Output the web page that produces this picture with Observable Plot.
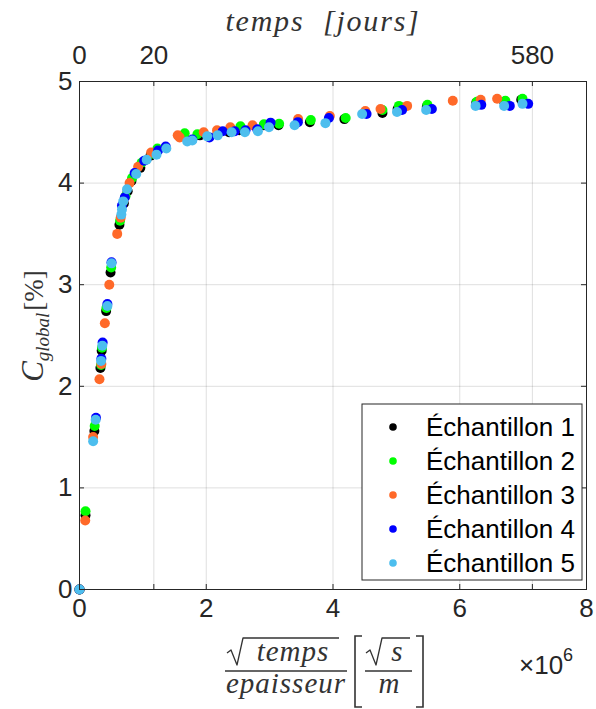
<!DOCTYPE html>
<html><head><meta charset="utf-8">
<script src="https://cdn.jsdelivr.net/npm/d3@7"></script>
<script src="https://cdn.jsdelivr.net/npm/@observablehq/plot@0.6"></script>
<style>body{margin:0;background:#fff}</style>
</head><body><div id="chart"></div>
<script>
// ---- data (x in units of 1e6 √s/m, y in %) ----
const seriesNames = ["Échantillon 1", "Échantillon 2", "Échantillon 3", "Échantillon 4", "Échantillon 5"];
const seriesColors = ["#000000", "#00ff00", "#ff6929", "#0000ff", "#4dbeee"];
const s1 = [[0,0],[0.095,0.73],[0.235,1.56],[0.33,2.18],[0.35,2.35],[0.42,2.74],[0.49,3.12],[0.63,3.59],[0.70,3.80],[0.76,3.92],[0.82,4.02],[0.96,4.15],[1.12,4.27],[1.22,4.31],[1.64,4.46],[1.90,4.47],[2.18,4.49],[2.36,4.50],[2.52,4.52],[2.91,4.57],[3.14,4.57],[3.635,4.60],[4.18,4.63],[4.78,4.69],[5.02,4.73],[5.48,4.75],[6.26,4.79],[6.70,4.80],[6.97,4.82]];
const s2 = [[0,0],[0.095,0.77],[0.24,1.61],[0.34,2.21],[0.355,2.38],[0.425,2.77],[0.50,3.17],[0.64,3.63],[0.726,3.87],[0.83,4.05],[0.98,4.20],[1.14,4.29],[1.23,4.34],[1.66,4.49],[1.86,4.48],[2.21,4.50],[2.54,4.56],[2.91,4.58],[3.15,4.585],[3.65,4.62],[4.20,4.64],[4.78,4.72],[5.04,4.76],[5.49,4.77],[6.27,4.80],[6.72,4.81],[6.99,4.83]];
const s3 = [[0,0],[0.09,0.68],[0.215,1.50],[0.315,2.07],[0.345,2.22],[0.40,2.62],[0.47,3.00],[0.595,3.50],[0.65,3.66],[0.79,4.00],[0.925,4.16],[1.13,4.30],[1.55,4.47],[1.58,4.45],[1.96,4.50],[2.17,4.52],[2.38,4.55],[2.73,4.57],[3.45,4.63],[3.95,4.66],[4.51,4.71],[4.75,4.73],[5.17,4.76],[5.89,4.81],[6.33,4.82],[6.59,4.83]];
const s4 = [[0,0],[0.26,1.69],[0.345,2.27],[0.365,2.43],[0.44,2.81],[0.505,3.22],[0.67,3.78],[0.715,3.86],[0.87,4.10],[1.02,4.22],[1.24,4.32],[1.36,4.36],[1.78,4.43],[2.05,4.45],[2.26,4.51],[2.45,4.51],[2.62,4.52],[2.805,4.53],[3.015,4.595],[3.446,4.60],[3.935,4.64],[4.53,4.68],[5.09,4.72],[5.56,4.73],[6.34,4.77],[6.79,4.76],[7.08,4.78]];
const s5 = [[0,0],[0.215,1.46],[0.255,1.67],[0.34,2.25],[0.36,2.40],[0.44,2.79],[0.505,3.21],[0.66,3.69],[0.67,3.74],[0.69,3.82],[0.75,3.94],[0.895,4.09],[1.06,4.23],[1.215,4.28],[1.37,4.34],[1.70,4.41],[1.78,4.42],[2.015,4.46],[2.18,4.47],[2.40,4.50],[2.61,4.50],[2.815,4.51],[2.99,4.55],[3.394,4.57],[3.88,4.59],[4.46,4.68],[5.01,4.70],[5.47,4.72],[6.25,4.76],[6.70,4.76],[6.99,4.78]];
const xTicks = [0, 2, 4, 6, 8];
const yTicks = [0, 1, 2, 3, 4, 5];
const topTicks = [0, 1.173, 7.146];          // positions of the day ticks on the x scale
const topTickLabels = ["0", "20", "580"];    // temps [jours]

// ---- layout ----
const W = 596, H = 709, mL = 79, mR = 10, mT = 81, mB = 120;
const pw = W - mL - mR, ph = H - mT - mB;
const axisColor = "#262626", tickLen = 5, fs = 26;
const sans = "'Liberation Sans', Arial, sans-serif";
const serif = "'Liberation Serif', 'DejaVu Serif', serif";
const mathColor = "#333";

const all = [s1, s2, s3, s4, s5].flatMap((arr, i) => arr.map(([x, y]) => ({x, y, s: seriesNames[i]})));
const allXTicks = [...xTicks, ...topTicks.filter(t => !xTicks.includes(t))];

const plot = Plot.plot({
  width: W, height: H, marginLeft: mL, marginRight: mR, marginTop: mT, marginBottom: mB,
  style: {fontFamily: sans, background: "#fff", color: axisColor, overflow: "visible"},
  x: {domain: [0, 8], label: null},
  y: {domain: [0, 5], label: null},
  color: {domain: seriesNames, range: seriesColors},
  marks: [
    Plot.gridX(allXTicks, {stroke: axisColor, strokeOpacity: 0.15}),
    Plot.gridY(yTicks, {stroke: axisColor, strokeOpacity: 0.15}),
    Plot.dot(all, {x: "x", y: "y", fill: "s", r: 5}),
    // inward tick marks on all four sides
    Plot.ruleX(allXTicks, {x: d => d, insetTop: ph - tickLen, stroke: axisColor}),
    Plot.ruleX(allXTicks, {x: d => d, insetBottom: ph - tickLen, stroke: axisColor}),
    Plot.ruleY(yTicks, {y: d => d, insetRight: pw - tickLen, stroke: axisColor}),
    Plot.ruleY(yTicks, {y: d => d, insetLeft: pw - tickLen, stroke: axisColor}),
    Plot.frame({stroke: axisColor, strokeWidth: 1}),
    Plot.axisX(xTicks, {anchor: "bottom", tickSize: 0, tickPadding: 9, fontSize: fs, label: null, fill: axisColor,
      tickFormat: d => String(d)}),
    Plot.axisX(topTicks, {anchor: "top", tickSize: 0, tickPadding: 18, fontSize: fs, label: null, fill: axisColor,
      tickFormat: d => topTickLabels[topTicks.indexOf(d)]}),
    Plot.axisY(yTicks, {anchor: "left", tickSize: 0, tickPadding: 7, fontSize: fs, label: null, fill: axisColor,
      tickFormat: d => String(d)})
  ]
});
document.getElementById("chart").appendChild(plot);

// ---- legend and axis titles drawn into the same SVG ----
const svg = d3.select(plot);

// legend
const lg = svg.append("g").attr("text-anchor", "start");
const lx = 362, ly = 404, lw = 220, lh = 176, rowH = 34, row0 = 427;
lg.append("rect").attr("x", lx).attr("y", ly).attr("width", lw).attr("height", lh)
  .attr("fill", "#fff").attr("stroke", axisColor).attr("stroke-width", 1);
seriesNames.forEach((name, i) => {
  const cy = row0 + i * rowH;
  lg.append("circle").attr("cx", 393).attr("cy", cy).attr("r", 3.8).attr("fill", seriesColors[i]);
  lg.append("text").attr("x", 426).attr("y", cy).attr("dy", "0.36em")
    .attr("font-size", 26).attr("fill", "#000").attr("font-family", sans).text(name);
});

// top title
svg.append("text").attr("x", 323).attr("y", 31).attr("text-anchor", "middle")
  .attr("font-family", serif).attr("font-style", "italic").attr("font-size", 30).attr("letter-spacing", 1.8)
  .attr("fill", mathColor).attr("xml:space", "preserve").text("temps  [jours]");

// y title
const yt = svg.append("text").attr("transform", "translate(43,326) rotate(-90)").attr("text-anchor", "middle")
  .attr("font-family", serif).attr("fill", mathColor);
yt.append("tspan").attr("font-style", "italic").attr("font-size", 31).text("C");
yt.append("tspan").attr("font-style", "italic").attr("font-size", 19).attr("dy", 6).text("global");
yt.append("tspan").attr("font-size", 27).attr("dy", -6).attr("dx", 2).text("[%]");

// x title: fraction √temps / epaisseur  [ √s / m ]
const xt = svg.append("g").attr("fill", mathColor).attr("font-family", serif).attr("text-anchor", "middle");
const num = 661, den = 693, bar = 671, ov = 638;
const rad = (x0, x1) => `M${x0},${ov + 15}L${x0 + 4},${ov + 12}L${x0 + 10},${ov + 27}L${x0 + 16},${ov}H${x1}`;
xt.append("path").attr("d", rad(227, 339)).attr("fill", "none").attr("stroke", mathColor).attr("stroke-width", 1.3).attr("stroke-linejoin", "round");
xt.append("text").attr("x", 293).attr("y", num).attr("font-style", "italic").attr("font-size", 29).attr("letter-spacing", 1).text("temps");
xt.append("line").attr("x1", 225).attr("x2", 347).attr("y1", bar).attr("y2", bar).attr("stroke", mathColor).attr("stroke-width", 1.3);
xt.append("text").attr("x", 286).attr("y", den).attr("font-style", "italic").attr("font-size", 29).attr("letter-spacing", 1).text("epaisseur");
xt.append("path").attr("d", "M362,636H355V707H362").attr("fill", "none").attr("stroke", mathColor).attr("stroke-width", 1.6);
xt.append("path").attr("d", rad(366, 410)).attr("fill", "none").attr("stroke", mathColor).attr("stroke-width", 1.3).attr("stroke-linejoin", "round");
xt.append("text").attr("x", 397).attr("y", num).attr("font-style", "italic").attr("font-size", 29).text("s");
xt.append("line").attr("x1", 365).attr("x2", 412).attr("y1", bar).attr("y2", bar).attr("stroke", mathColor).attr("stroke-width", 1.3);
xt.append("text").attr("x", 389).attr("y", den).attr("font-style", "italic").attr("font-size", 29).text("m");
xt.append("path").attr("d", "M416,636H423V707H416").attr("fill", "none").attr("stroke", mathColor).attr("stroke-width", 1.6);

// ×10^6 exponent
const ex = svg.append("text").attr("x", 519).attr("y", 674).attr("font-size", fs).attr("fill", axisColor)
  .attr("font-family", sans).attr("text-anchor", "start");
ex.append("tspan").text("×10");
ex.append("tspan").attr("font-size", 18).attr("dy", -13).text("6");
</script>
</body></html>
